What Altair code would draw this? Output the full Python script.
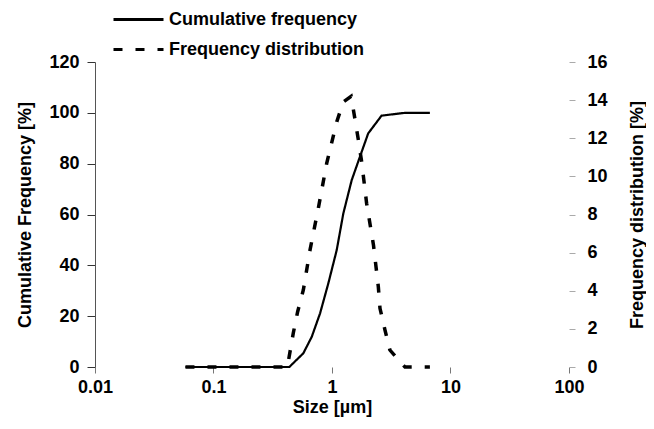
import altair as alt
import pandas as pd

# Cumulative frequency (left axis, %)
cum_size = [0.058, 0.436, 0.573, 0.675, 0.793, 0.931, 1.096, 1.246, 1.466, 1.72, 2.02, 2.62, 4.13, 6.7]
cum_val = [0, 0, 5.4, 11.9, 21.1, 32.9, 46.0, 60.4, 73.5, 82.7, 91.9, 98.9, 100, 100]

# Frequency distribution (right axis, %)
freq_size = [0.058, 0.42, 0.471, 0.513, 0.573, 0.652, 0.766, 0.902, 1.096, 1.245, 1.45,
             1.56, 1.67, 1.78, 1.96, 2.24, 2.46, 2.54, 2.80, 3.08, 3.87, 4.13, 6.7]
freq_val = [0, 0, 1.77, 2.9, 4.04, 6.13, 8.32, 10.68, 12.86, 13.9, 14.2,
            13.03, 11.9, 10.76, 8.58, 6.39, 4.21, 3.08, 1.94, 0.89, 0.19, 0, 0]

series_names = ["Cumulative frequency", "Frequency distribution"]
x_ticks = [0.01, 0.1, 1, 10, 100]
left_ticks = [0, 20, 40, 60, 80, 100, 120]
right_ticks = [0, 2, 4, 6, 8, 10, 12, 14, 16]

cum_df = pd.DataFrame({"size": cum_size, "value": cum_val, "series": series_names[0]})
freq_df = pd.DataFrame({"size": freq_size, "value": freq_val, "series": series_names[1]})

FONT = "Liberation Sans"

x_enc = alt.X(
    "size:Q",
    scale=alt.Scale(type="log", domain=[0.01, 100], nice=False),
    axis=alt.Axis(
        values=x_ticks, format="~g", title="Size [\u00b5m]", grid=False,
        domain=False, tickColor="#777777", tickSize=6, labelPadding=5,
        labelFlush=False, titlePadding=2,
    ),
)

dash_scale = alt.Scale(domain=series_names, range=[[1, 0], [9, 13]])

legend = alt.Legend(
    title=None, orient="none", legendX=32, legendY=-54,
    symbolType="M-2.5,0H2.5", symbolSize=400, symbolStrokeWidth=3,
    symbolStrokeColor="black", symbolFillColor="transparent",
    rowPadding=9, labelOffset=19, padding=0,
    labelFont=FONT, labelFontSize=18, labelFontWeight="bold", labelColor="black",
    labelLimit=400,
)

cum = alt.Chart(cum_df).mark_line(color="black", strokeWidth=2.2).encode(
    x=x_enc,
    y=alt.Y(
        "value:Q",
        scale=alt.Scale(domain=[0, 120], nice=False),
        axis=alt.Axis(
            values=left_ticks, title="Cumulative Frequency [%]", grid=False,
            orient="left", domainColor="#555555", tickColor="#333333",
            tickSize=8, labelPadding=8, titlePadding=14,
        ),
    ),
    strokeDash=alt.StrokeDash("series:N", scale=dash_scale, legend=legend),
)

freq = alt.Chart(freq_df).mark_line(color="black", strokeWidth=3.5).encode(
    x=x_enc,
    y=alt.Y(
        "value:Q",
        scale=alt.Scale(domain=[0, 16], nice=False),
        axis=alt.Axis(
            values=right_ticks, title="Frequency distribution [%]", grid=False,
            orient="right", domain=False, tickColor="#aaaaaa", tickSize=6,
            labelPadding=12, titlePadding=39, titleAngle=270,
        ),
    ),
    strokeDash=alt.StrokeDash("series:N", scale=dash_scale, legend=legend),
)

chart = (
    alt.layer(cum, freq)
    .resolve_scale(y="independent")
    .properties(
        width=474, height=305,
        autosize=alt.AutoSizeParams(type="none"),
        padding={"left": 87, "top": 54, "right": 77, "bottom": 52},
    )
    .configure_view(stroke=None)
    .configure_axis(
        labelFont=FONT, labelFontSize=18, labelFontWeight="bold", labelColor="black",
        titleFont=FONT, titleFontSize=18, titleFontWeight="bold", titleColor="black",
    )
)

chart.save("out.html", embed_options={"renderer": "svg", "actions": False})
